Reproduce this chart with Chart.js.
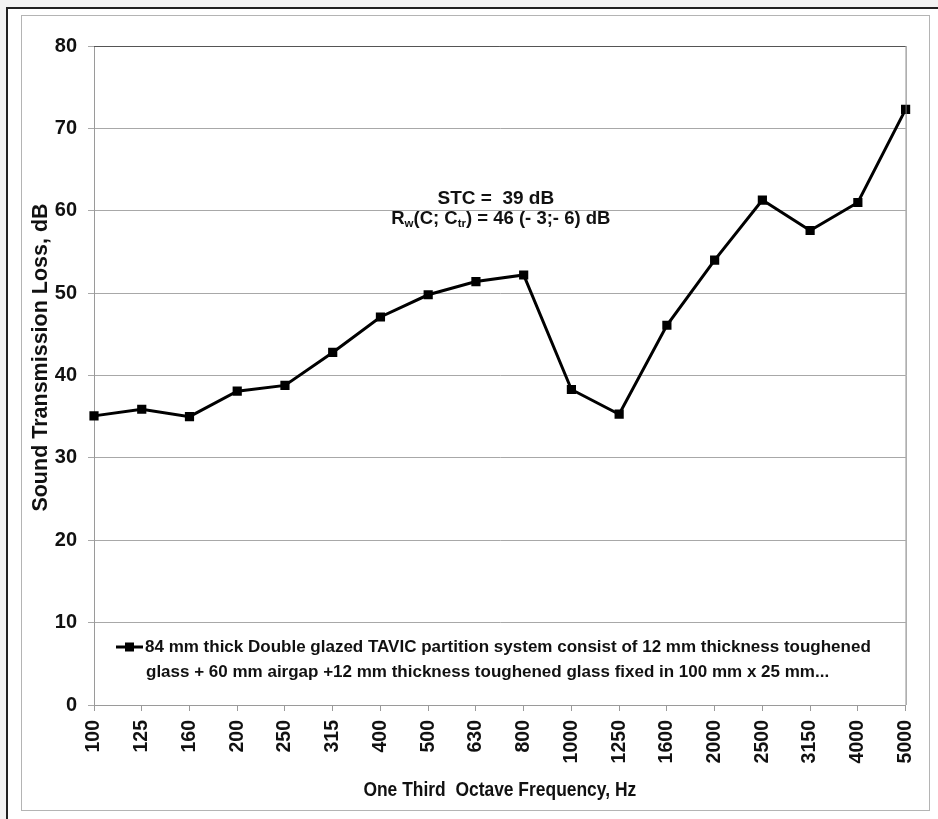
<!DOCTYPE html>
<html><head><meta charset="utf-8">
<script src="https://cdn.jsdelivr.net/npm/chart.js@4.4.1/dist/chart.umd.min.js"></script>
<style>
html,body{margin:0;padding:0;background:#f3f3f3;overflow:hidden;}
#outer{position:absolute;left:6px;top:7px;width:940px;height:820px;border-left:2px solid #222;border-top:2px solid #222;background:#fff;box-sizing:border-box;}
#inner{position:absolute;left:21px;top:15px;width:909px;height:796px;border:1px solid #b4b4b4;box-sizing:border-box;}
#wrap{position:absolute;left:0;top:0;width:938px;height:819px;}
</style></head>
<body>
<div id="outer"></div><div id="inner"></div>
<div id="wrap"><canvas id="c" width="938" height="819"></canvas></div>
<script>
// ---- data ----
const frequencies = ['100','125','160','200','250','315','400','500','630','800','1000','1250','1600','2000','2500','3150','4000','5000'];
const transmissionLoss = [35.1,35.9,35.0,38.1,38.8,42.8,47.1,49.8,51.4,52.2,38.3,35.3,46.1,54.0,61.3,57.6,61.0,72.3];
const yMin = 0, yMax = 80, yStep = 10;
const seriesLabel = '84 mm thick Double glazed TAVIC partition system consist of 12 mm thickness toughened glass + 60 mm airgap +12 mm thickness toughened glass fixed in 100 mm x 25 mm...';
const legendLines = ['84 mm thick Double glazed TAVIC partition system consist of 12 mm thickness toughened',
                     'glass + 60 mm airgap +12 mm thickness toughened glass fixed in 100 mm x 25 mm...'];
const stcLine = [['STC =  39 dB', false]];
const rwLine = [['R', false], ['w', true], ['(C; C', false], ['tr', true], [') = 46 (- 3;- 6) dB', false]];
const xTitle = 'One Third  Octave Frequency, Hz';
const yTitle = 'Sound Transmission Loss, dB';

const REG = '"Liberation Sans", Arial, sans-serif';
const INK = '#111';

const extras = {
  id: 'extras',
  afterDraw(chart) {
    const ctx = chart.ctx;
    const a = chart.chartArea;
    const ys = chart.scales.y;
    ctx.save();
    // plot frame
    ctx.lineWidth = 1;
    ctx.strokeStyle = '#555';
    ctx.beginPath(); ctx.moveTo(a.left, a.top + 0.5); ctx.lineTo(a.right, a.top + 0.5); ctx.stroke();
    ctx.strokeStyle = '#7a7a7a';
    ctx.beginPath(); ctx.moveTo(a.right + 0.5, a.top); ctx.lineTo(a.right + 0.5, a.bottom); ctx.stroke();

    // annotation
    const drawRich = (parts, cx, cy, size) => {
      const segs = parts.map(([t, sub]) => {
        ctx.font = 'bold ' + (sub ? size * 0.62 : size) + 'px ' + REG;
        return {t, sub, w: ctx.measureText(t).width};
      });
      const total = segs.reduce((s, g) => s + g.w, 0);
      let x = cx - total / 2;
      ctx.fillStyle = INK;
      ctx.textBaseline = 'middle';
      ctx.textAlign = 'left';
      segs.forEach(g => {
        ctx.font = 'bold ' + (g.sub ? size * 0.62 : size) + 'px ' + REG;
        ctx.fillText(g.t, x, g.sub ? cy + size * 0.3 : cy);
        x += g.w;
      });
    };
    const cx = (a.left + a.right) / 2;
    const y60 = ys.getPixelForValue(60);
    drawRich(stcLine, cx - 4, y60 - 12, 19);
    drawRich(rwLine, cx + 1, y60 + 8, 18.5);

    // legend
    const y0 = ys.getPixelForValue(0);
    const l1 = y0 - 58, l2 = y0 - 33;
    const mx = a.left + 22;
    ctx.strokeStyle = '#000';
    ctx.lineWidth = 3;
    ctx.beginPath(); ctx.moveTo(mx, l1); ctx.lineTo(mx + 27, l1); ctx.stroke();
    ctx.fillStyle = '#000';
    ctx.fillRect(mx + 13.5 - 4.5, l1 - 4.5, 9, 9);
    ctx.fillStyle = INK;
    ctx.font = 'bold 17px ' + REG;
    ctx.textBaseline = 'middle';
    ctx.textAlign = 'left';
    ctx.fillText(legendLines[0], mx + 29, l1);
    ctx.fillText(legendLines[1], mx + 30, l2);

    // x-axis title (condensed)
    ctx.save();
    ctx.translate(cx, chart.height - 29);
    ctx.scale(0.83, 1);
    ctx.font = 'bold 21px ' + REG;
    ctx.textAlign = 'center';
    ctx.textBaseline = 'middle';
    ctx.fillText(xTitle, 0, 0);
    ctx.restore();

    // y-axis title
    ctx.save();
    ctx.translate(41, (a.top + a.bottom) / 2 - 18);
    ctx.rotate(-Math.PI / 2);
    ctx.font = 'bold 21.5px ' + REG;
    ctx.textAlign = 'center';
    ctx.textBaseline = 'middle';
    ctx.fillText(yTitle, 0, 0);
    ctx.restore();

    ctx.restore();
  }
};

new Chart(document.getElementById('c'), {
  type: 'line',
  data: {
    labels: frequencies,
    datasets: [{
      label: seriesLabel,
      data: transmissionLoss,
      borderColor: '#000',
      backgroundColor: '#000',
      borderWidth: 3,
      tension: 0,
      pointStyle: 'rect',
      pointRadius: 6.5,
      pointBorderWidth: 0,
      pointBackgroundColor: '#000'
    }]
  },
  options: {
    responsive: false,
    animation: false,
    devicePixelRatio: 1,
    layout: { padding: { top: 46, right: 31, left: 0, bottom: 0 } },
    plugins: { legend: { display: false }, tooltip: { enabled: false } },
    scales: {
      x: {
        offset: false,
        grid: { display: true, drawOnChartArea: false, drawTicks: true, tickLength: 6, color: '#9a9a9a', tickColor: '#9a9a9a' },
        border: { color: '#9a9a9a' },
        ticks: { autoSkip: false, minRotation: 90, maxRotation: 90, padding: 9, color: INK,
                 font: { family: REG, size: 19.5, weight: 'bold' } },
        title: { display: false, text: xTitle },
        afterFit(s) { s.height = 114; }
      },
      y: {
        min: yMin, max: yMax,
        grid: { color: '#a8a8a8', lineWidth: 1, tickLength: 6, tickColor: '#a8a8a8' },
        border: { color: '#9a9a9a' },
        ticks: { stepSize: yStep, padding: 11, color: INK, font: { family: REG, size: 20, weight: 'bold' } },
        title: { display: false, text: yTitle },
        afterFit(s) { s.width = 94; }
      }
    }
  },
  plugins: [extras]
});
</script>
</body></html>
